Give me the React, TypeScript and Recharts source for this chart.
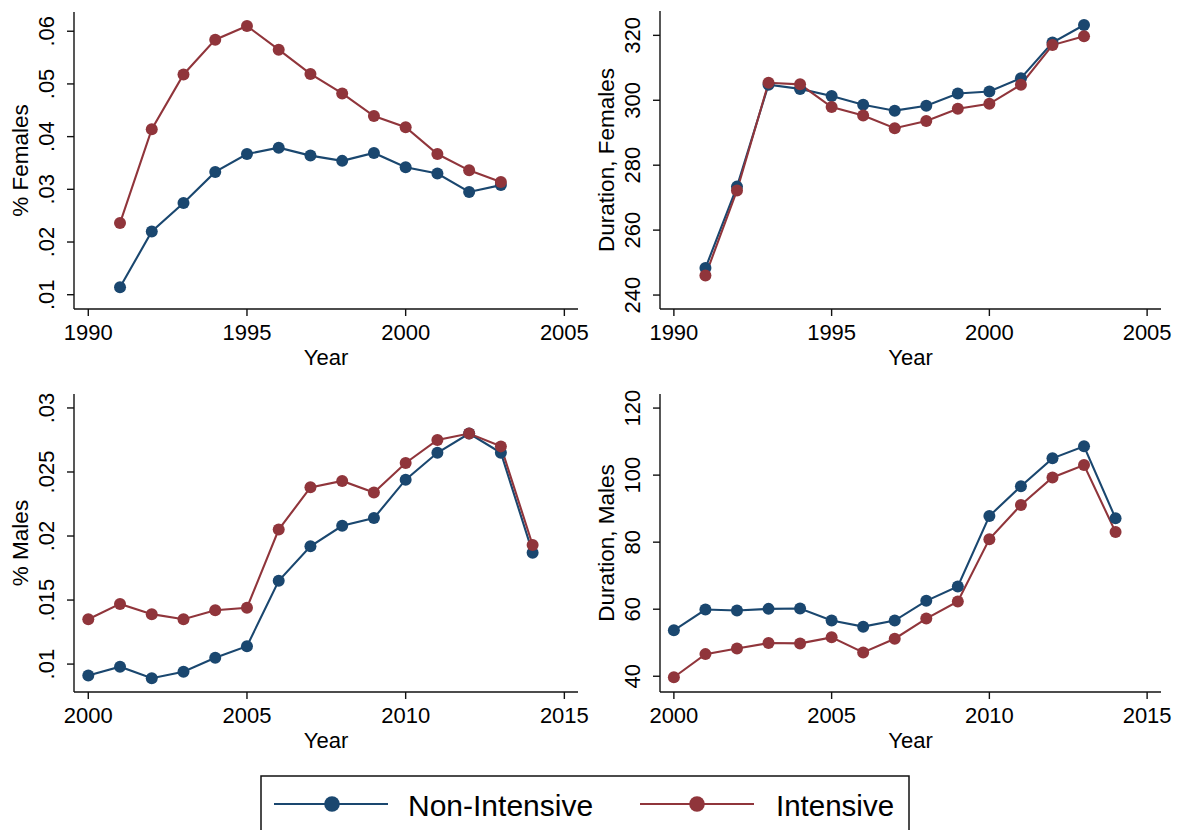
import React from 'react';
import { LineChart, Line, XAxis, YAxis, Label } from 'recharts';

// Colours (navy / maroon)
const NAVY = '#1a476f';
const MAROON = '#90353b';
const FONT = '"Liberation Sans", Arial, Helvetica, sans-serif';

// ---- Females, 1991-2003 ----
const femaleYears = [1991, 1992, 1993, 1994, 1995, 1996, 1997, 1998, 1999, 2000, 2001, 2002, 2003];
const femaleShareNonIntensive = [0.0114, 0.022, 0.0274, 0.0333, 0.0367, 0.0379, 0.0364, 0.0354, 0.0369, 0.0342, 0.033, 0.0295, 0.0308];
const femaleShareIntensive = [0.0236, 0.0414, 0.0518, 0.0584, 0.061, 0.0565, 0.0519, 0.0482, 0.0439, 0.0418, 0.0367, 0.0336, 0.0314];
const femaleDurationNonIntensive = [248.3, 273.4, 304.8, 303.5, 301.3, 298.6, 296.8, 298.3, 302.1, 302.7, 306.8, 317.8, 323.2];
const femaleDurationIntensive = [246.0, 272.2, 305.4, 304.9, 297.9, 295.3, 291.4, 293.6, 297.4, 298.9, 304.8, 317.0, 319.7];

// ---- Males, 2000-2014 ----
const maleYears = [2000, 2001, 2002, 2003, 2004, 2005, 2006, 2007, 2008, 2009, 2010, 2011, 2012, 2013, 2014];
const maleShareNonIntensive = [0.0091, 0.0098, 0.0089, 0.0094, 0.0105, 0.0114, 0.0165, 0.0192, 0.0208, 0.0214, 0.0244, 0.0265, 0.028, 0.0265, 0.0187];
const maleShareIntensive = [0.0135, 0.0147, 0.0139, 0.0135, 0.0142, 0.0144, 0.0205, 0.0238, 0.0243, 0.0234, 0.0257, 0.0275, 0.028, 0.027, 0.0193];
const maleDurationNonIntensive = [53.7, 59.9, 59.6, 60.1, 60.2, 56.6, 54.8, 56.6, 62.5, 66.8, 87.8, 96.7, 105.0, 108.6, 87.1];
const maleDurationIntensive = [39.7, 46.6, 48.3, 49.9, 49.8, 51.6, 47.1, 51.2, 57.2, 62.3, 80.9, 91.1, 99.3, 103.0, 83.0];

// ---- Axis ticks ----
const femaleYearTicks = [1990, 1995, 2000, 2005];
const maleYearTicks = [2000, 2005, 2010, 2015];
const femaleShareTicks = [0.01, 0.02, 0.03, 0.04, 0.05, 0.06];
const femaleShareTickLabels = ['.01', '.02', '.03', '.04', '.05', '.06'];
const femaleDurationTicks = [240, 260, 280, 300, 320];
const femaleDurationTickLabels = ['240', '260', '280', '300', '320'];
const maleShareTicks = [0.01, 0.015, 0.02, 0.025, 0.03];
const maleShareTickLabels = ['.01', '.015', '.02', '.025', '.03'];
const maleDurationTicks = [40, 60, 80, 100, 120];
const maleDurationTickLabels = ['40', '60', '80', '100', '120'];

const seriesNames = ['Non-Intensive', 'Intensive'];

type Row = { year: number; nonIntensive: number; intensive: number };

const buildRows = (years: number[], a: number[], b: number[]): Row[] =>
  years.map((year, i) => ({ year, nonIntensive: a[i], intensive: b[i] }));

const makeYTick = (ticks: number[], labels: string[]) => (props: any) => {
  const { x, y, payload } = props;
  const idx = ticks.findIndex((t) => Math.abs(t - payload.value) < 1e-9);
  const text = idx >= 0 ? labels[idx] : String(payload.value);
  return (
    <text
      x={x}
      y={y}
      transform={`rotate(-90 ${x} ${y})`}
      textAnchor="middle"
      fontSize={22}
      fontFamily={FONT}
      fill="#000"
    >
      {text}
    </text>
  );
};

const XTick = (props: any) => {
  const { x, y, payload } = props;
  return (
    <text x={x} y={y + 24} textAnchor="middle" fontSize={22} fontFamily={FONT} fill="#000">
      {payload.value}
    </text>
  );
};

type PanelProps = {
  left: number;
  top: number;
  width: number;
  height: number;
  rows: Row[];
  xDomain: [number, number];
  xTicks: number[];
  yDomain: [number, number];
  yTicks: number[];
  yTickLabels: string[];
  yTitle: string;
  yAxisWidth: number;
  xAxisHeight: number;
  margin: { top: number; right: number; left: number; bottom: number };
};

const Panel = (p: PanelProps) => (
  <div style={{ position: 'absolute', left: p.left, top: p.top }}>
    <LineChart width={p.width} height={p.height} data={p.rows} margin={p.margin}>
      <XAxis
        dataKey="year"
        type="number"
        domain={p.xDomain}
        ticks={p.xTicks}
        allowDataOverflow
        height={p.xAxisHeight}
        stroke="#111"
        strokeWidth={1.4}
        tickSize={7}
        tickMargin={0}
        tick={<XTick />}
        interval={0}
      >
        <Label
          content={(lp: any) => {
            const vb = lp.viewBox || {};
            return (
              <text
                x={vb.x + vb.width / 2}
                y={vb.y + 56}
                textAnchor="middle"
                fontSize={22}
                fontFamily={FONT}
                fill="#000"
              >
                Year
              </text>
            );
          }}
        />
      </XAxis>
      <YAxis
        type="number"
        domain={p.yDomain}
        ticks={p.yTicks}
        allowDataOverflow
        width={p.yAxisWidth}
        stroke="#111"
        strokeWidth={1.4}
        tickSize={7}
        tickMargin={13}
        tick={makeYTick(p.yTicks, p.yTickLabels)}
        interval={0}
      >
        <Label
          content={(lp: any) => {
            const vb = lp.viewBox || {};
            const bx = vb.x + vb.width - 46;
            const cy = vb.y + vb.height / 2;
            return (
              <text
                x={bx}
                y={cy}
                transform={`rotate(-90 ${bx} ${cy})`}
                textAnchor="middle"
                fontSize={22.5}
                fontFamily={FONT}
                fill="#000"
              >
                {p.yTitle}
              </text>
            );
          }}
        />
      </YAxis>
      <Line
        dataKey="nonIntensive"
        name={seriesNames[0]}
        stroke={NAVY}
        strokeWidth={2.1}
        dot={{ r: 6, fill: NAVY, stroke: NAVY, strokeWidth: 0 }}
        isAnimationActive={false}
      />
      <Line
        dataKey="intensive"
        name={seriesNames[1]}
        stroke={MAROON}
        strokeWidth={2.1}
        dot={{ r: 6, fill: MAROON, stroke: MAROON, strokeWidth: 0 }}
        isAnimationActive={false}
      />
    </LineChart>
  </div>
);

const LegendBox = () => (
  <svg
    width={652}
    height={60}
    style={{ position: 'absolute', left: 260, top: 775 }}
  >
    <rect x={1} y={1} width={648} height={80} fill="#fff" stroke="#111" strokeWidth={1.5} />
    <line x1={14} x2={128} y1={29} y2={29} stroke={NAVY} strokeWidth={2.2} />
    <circle cx={72} cy={29} r={7.8} fill={NAVY} />
    <text x={148} y={40.5} fontSize={30} fontFamily={FONT} fill="#000">
      {seriesNames[0]}
    </text>
    <line x1={380} x2={494} y1={29} y2={29} stroke={MAROON} strokeWidth={2.2} />
    <circle cx={437} cy={29} r={7.8} fill={MAROON} />
    <text x={516} y={40.5} fontSize={29.5} fontFamily={FONT} fill="#000">
      {seriesNames[1]}
    </text>
  </svg>
);

export default function App() {
  return (
    <div
      style={{
        position: 'absolute',
        left: 0,
        top: 0,
        width: 1180,
        height: 830,
        overflow: 'hidden',
        background: '#fff',
        fontFamily: FONT,
      }}
    >
      <Panel
        left={0}
        top={0}
        width={590}
        height={380}
        rows={buildRows(femaleYears, femaleShareNonIntensive, femaleShareIntensive)}
        xDomain={[1989.55, 2005.43]}
        xTicks={femaleYearTicks}
        yDomain={[0.00729, 0.06365]}
        yTicks={femaleShareTicks}
        yTickLabels={femaleShareTickLabels}
        yTitle="% Females"
        yAxisWidth={74}
        xAxisHeight={71}
        margin={{ top: 12, right: 12, left: 0, bottom: 0 }}
      />
      <Panel
        left={590}
        top={0}
        width={590}
        height={380}
        rows={buildRows(femaleYears, femaleDurationNonIntensive, femaleDurationIntensive)}
        xDomain={[1989.56, 2005.44]}
        xTicks={femaleYearTicks}
        yDomain={[235.7, 327.5]}
        yTicks={femaleDurationTicks}
        yTickLabels={femaleDurationTickLabels}
        yTitle="Duration, Females"
        yAxisWidth={70}
        xAxisHeight={71}
        margin={{ top: 11, right: 19, left: 0, bottom: 0 }}
      />
      <Panel
        left={0}
        top={380}
        width={590}
        height={380}
        rows={buildRows(maleYears, maleShareNonIntensive, maleShareIntensive)}
        xDomain={[1999.55, 2015.43]}
        xTicks={maleYearTicks}
        yDomain={[0.00782, 0.03109]}
        yTicks={maleShareTicks}
        yTickLabels={maleShareTickLabels}
        yTitle="% Males"
        yAxisWidth={74}
        xAxisHeight={68}
        margin={{ top: 14, right: 12, left: 0, bottom: 0 }}
      />
      <Panel
        left={590}
        top={380}
        width={590}
        height={380}
        rows={buildRows(maleYears, maleDurationNonIntensive, maleDurationIntensive)}
        xDomain={[1999.56, 2015.44]}
        xTicks={maleYearTicks}
        yDomain={[35.3, 124.2]}
        yTicks={maleDurationTicks}
        yTickLabels={maleDurationTickLabels}
        yTitle="Duration, Males"
        yAxisWidth={70}
        xAxisHeight={68}
        margin={{ top: 14, right: 19, left: 0, bottom: 0 }}
      />
      <LegendBox />
    </div>
  );
}
